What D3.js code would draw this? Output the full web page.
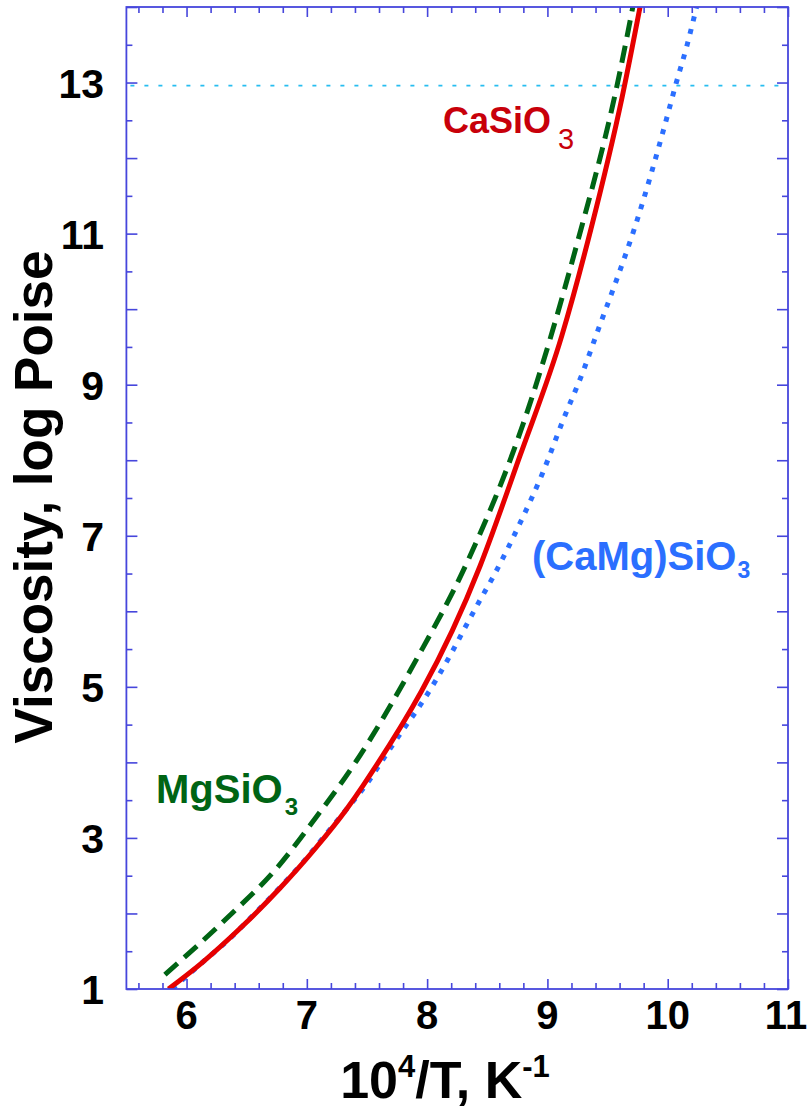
<!DOCTYPE html>
<html><head><meta charset="utf-8">
<script src="https://cdn.jsdelivr.net/npm/d3@7"></script>
<style>body{margin:0;background:#fff}svg{display:block}text{font-family:"Liberation Sans",Arial,sans-serif;font-weight:bold}</style>
</head><body>
<svg id="c" width="807" height="1110"></svg>
<script>
// Data
const xTickLabels = [6, 7, 8, 9, 10, 11];
const yTickLabels = [1, 3, 5, 7, 9, 11, 13];
const refLine = 12.96;

const caX = [5.85, 6.13, 6.47, 6.78, 7.07, 7.33, 7.47, 8.44, 8.77, 9.12, 9.36, 9.62, 9.77];
const caY = [1.0, 1.35, 1.84, 2.34, 2.86, 3.38, 3.70, 6.6, 8.05, 9.65, 11.05, 12.8, 14.0];

const mgX = [5.82, 6.33, 6.75, 7.08, 7.40, 7.91, 8.33, 8.80, 9.24, 9.58, 9.71];
const mgY = [1.19, 1.93, 2.60, 3.28, 3.99, 5.36, 6.64, 8.49, 10.83, 12.97, 14.0];

const cmX = [5.88, 6.13, 6.36, 6.58, 6.78, 6.98, 7.15, 7.33, 7.50, 7.65, 7.79, 7.94, 8.07, 8.20, 8.31, 8.43, 8.55, 8.77, 8.96, 9.13, 9.30, 9.42, 9.58, 9.73, 9.86, 9.98, 10.07, 10.16, 10.24];
const cmY = [1.0, 1.35, 1.67, 2.02, 2.35, 2.70, 3.03, 3.38, 3.72, 4.08, 4.41, 4.75, 5.08, 5.44, 5.77, 6.12, 6.46, 7.16, 7.83, 8.53, 9.19, 9.72, 10.41, 11.10, 11.78, 12.46, 12.99, 13.49, 14.0];

const svg = d3.select("#c");
const L = 126.4, R = 788, T = 7, B = 989;
const x = d3.scaleLinear().domain([5.5, 11]).range([L, R]);
const y = d3.scaleLinear().domain([1, 14]).range([B, T]);
const axisCol = "#4646dc";

svg.append("defs").append("clipPath").attr("id","clip").append("rect")
  .attr("x", L).attr("y", T).attr("width", R-L).attr("height", B-T);

// reference dotted line
svg.append("line").attr("x1", x(5.5)+4).attr("x2", x(11)-4)
  .attr("y1", y(refLine)).attr("y2", y(refLine))
  .attr("stroke", "#27bdf0").attr("stroke-width", 1.8).attr("stroke-dasharray", "4 10");

const line = d3.line().x(d => x(d[0])).y(d => y(d[1])).curve(d3.curveMonotoneX);
const g = svg.append("g").attr("clip-path", "url(#clip)");
g.append("path").datum(d3.zip(cmX, cmY)).attr("d", line).attr("fill","none")
  .attr("stroke","#2b6fff").attr("stroke-width",5).attr("stroke-dasharray","5 8");
g.append("path").datum(d3.zip(mgX, mgY)).attr("d", line).attr("fill","none")
  .attr("stroke","#006414").attr("stroke-width",5).attr("stroke-dasharray","17 9");
g.append("path").datum(d3.zip(caX, caY)).attr("d", line).attr("fill","none")
  .attr("stroke","#e60000").attr("stroke-width",5);

// axes with inward ticks
const xMajor = d3.range(6, 11.01, 1);
const xMinor = d3.range(5.6, 11.0, 0.2).filter(v => Math.abs(v - Math.round(v)) > 0.01);
const yMajor = d3.range(1, 14.01, 1);
const yMinor = d3.range(1.5, 14, 1);

function styleAxis(sel){
  sel.selectAll(".domain").remove();
  sel.selectAll("line").attr("stroke", axisCol).attr("stroke-width", 1.6);
  sel.selectAll("text").remove();
}
svg.append("g").attr("transform",`translate(0,${B})`).call(d3.axisTop(x).tickValues(xMajor).tickSize(10).tickFormat("")).call(styleAxis);
svg.append("g").attr("transform",`translate(0,${B})`).call(d3.axisTop(x).tickValues(xMinor).tickSize(6).tickFormat("")).call(styleAxis);
svg.append("g").attr("transform",`translate(0,${T})`).call(d3.axisBottom(x).tickValues(xMajor).tickSize(10).tickFormat("")).call(styleAxis);
svg.append("g").attr("transform",`translate(0,${T})`).call(d3.axisBottom(x).tickValues(xMinor).tickSize(6).tickFormat("")).call(styleAxis);
svg.append("g").attr("transform",`translate(${L},0)`).call(d3.axisRight(y).tickValues(yMajor).tickSize(11).tickFormat("")).call(styleAxis);
svg.append("g").attr("transform",`translate(${L},0)`).call(d3.axisRight(y).tickValues(yMinor).tickSize(6).tickFormat("")).call(styleAxis);
svg.append("g").attr("transform",`translate(${R},0)`).call(d3.axisLeft(y).tickValues(yMajor).tickSize(11).tickFormat("")).call(styleAxis);
svg.append("g").attr("transform",`translate(${R},0)`).call(d3.axisLeft(y).tickValues(yMinor).tickSize(6).tickFormat("")).call(styleAxis);

svg.append("rect").attr("x", L).attr("y", T).attr("width", R-L).attr("height", B-T)
  .attr("fill","none").attr("stroke", axisCol).attr("stroke-width", 1.8);

// tick labels
svg.append("g").selectAll("text").data(xTickLabels).join("text")
  .attr("x", d => x(d) + (d === 11 ? -2 : 0)).attr("y", 1029).attr("text-anchor","middle")
  .attr("font-size", 40).attr("fill","#000").text(d => d);
svg.append("g").selectAll("text").data(yTickLabels).join("text")
  .attr("x", 104).attr("y", d => y(d) + 15).attr("text-anchor","end")
  .attr("font-size", 41).attr("fill","#000").text(d => d);

// axis titles
const xt = svg.append("text").attr("x", 445).attr("y", 1098).attr("text-anchor","middle")
  .attr("font-size", 52).attr("fill","#000");
xt.append("tspan").text("10");
xt.append("tspan").attr("dy", -21).attr("font-size", 31).text("4");
xt.append("tspan").attr("dy", 21).text("/T, K");
xt.append("tspan").attr("dy", -21).attr("font-size", 31).text("-1");

svg.append("text").attr("transform","translate(52,497) rotate(-90)").attr("text-anchor","middle")
  .attr("font-size", 53).attr("fill","#000").text("Viscosity, log Poise");

// series labels
function label(px, py, main, col, size, subSize, subDy, subDx, subWeight){
  const t = svg.append("text").attr("x", px).attr("y", py).attr("font-size", size).attr("fill", col);
  t.append("tspan").text(main);
  t.append("tspan").attr("dx", subDx).attr("dy", subDy).attr("font-size", subSize).attr("font-weight", subWeight).text("3");
}
label(443, 133, "CaSiO", "#c8000a", 36, 29, 16, 7, "normal");
label(156, 803, "MgSiO", "#006414", 40, 24, 12, 2, "bold");
label(532, 570, "(CaMg)SiO", "#2b6fff", 40, 23, 8, 1, "bold");
</script>
</body></html>
